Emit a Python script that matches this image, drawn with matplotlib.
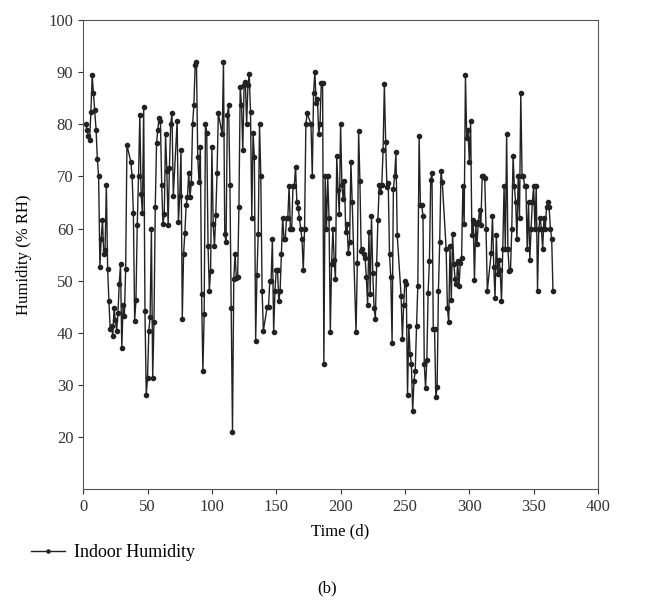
import matplotlib.pyplot as plt
import numpy as np

# Indoor humidity readings (% RH) in eleven runs of consecutive days
seg_a = [80.0, 79.0, 77.7, 77.0, 82.4, 89.4, 86.0, 82.7, 79.0, 73.3, 70.0, 52.7, 58.0, 61.7, 55.1, 55.8,
         68.4, 52.3, 46.0, 40.7, 41.3, 39.3, 44.7, 42.4, 40.4, 43.7, 49.3, 53.1, 37.0, 45.4, 43.3, 52.3, 76.0]
seg_b = [72.8, 70.1, 63.0, 42.3, 46.3, 60.7, 70.0, 81.7, 66.7, 63.0, 83.3, 44.1, 28.1, 31.4, 40.4, 43.0,
         59.9, 31.4, 42.0, 64.1, 76.4, 79.0, 81.3, 80.6, 68.3, 60.9, 62.7, 78.1, 71.0, 60.7, 71.7, 80.1, 82.1, 66.3]
seg_c = [80.6, 61.2, 66.2, 75.0, 42.7, 55.1, 59.1, 64.6, 66.0, 70.6, 66.0, 68.7, 80.0, 83.7, 91.3, 92.0,
         73.7, 68.9, 75.6, 47.4, 32.7, 43.6, 80.0, 78.3, 56.7, 48.1, 51.9, 75.6, 60.8, 56.7, 62.5, 70.6, 82.1]
seg_d = [78.1, 92.0, 58.9, 57.4, 81.7, 83.7, 68.4, 44.7, 21.0, 50.3, 55.1, 50.5, 50.6, 64.1, 87.1, 83.7,
         75.0, 87.5, 88.1, 80.0, 87.5, 89.6, 82.4, 62.1, 78.3, 73.7, 38.5, 51.0, 58.9, 80.0, 70.0, 48.1, 40.4]
seg_e = [45.0, 45.0, 50.0, 50.0, 58.0, 40.1, 48.1, 52.0, 52.0, 46.0, 48.1, 55.1, 62.1, 58.0, 58.0, 62.1,
         62.1, 68.1, 59.9, 59.9, 68.1, 68.1, 71.9, 65.1, 64.0, 62.1, 59.9, 58.0, 52.0, 59.9, 80.0, 82.1]
seg_f = [80.0, 70.0, 86.0, 90.1, 84.1, 84.9, 78.1, 80.0, 88.0, 88.0, 34.0, 70.0, 59.9, 70.0, 62.1, 40.1,
         53.1, 59.9, 54.0, 50.3, 74.0, 67.3, 62.7, 80.0, 68.3, 65.7, 69.1, 59.3, 60.9, 55.3, 57.4, 72.8, 65.1]
seg_g = [40.1, 53.4, 78.7, 69.1, 55.6, 56.0, 55.1, 54.4, 50.6, 45.4, 59.3, 47.4, 62.4, 51.4, 44.7, 42.7,
         53.1, 61.7, 68.3, 67.0, 68.3, 75.0, 87.7, 76.6, 67.9, 68.7, 55.1, 50.6, 38.1, 67.6, 70.0, 74.7, 58.7]
seg_h = [47.1, 38.8, 45.4, 50.0, 49.3, 28.1, 41.3, 36.0, 34.0, 25.0, 30.8, 32.7, 41.3, 49.0, 77.7, 64.6,
         64.6, 62.4, 34.0, 29.4, 34.7, 47.7, 53.7, 69.3, 70.6, 40.7, 40.7, 27.7, 29.5, 48.1, 57.4, 71.0, 68.9]
seg_i = [56.1, 44.7, 42.0, 56.7, 46.2, 58.9, 53.1, 50.3, 49.3, 53.7, 49.0, 53.3, 54.4, 68.1, 60.8, 89.4,
         77.4, 79.0, 72.8, 80.6, 58.7, 61.7, 50.1, 60.8, 57.0, 61.2, 63.6, 60.7, 70.0, 70.0, 69.7, 59.9, 48.1]
seg_j = [55.3, 62.4, 52.7, 46.7, 58.8, 51.3, 54.0, 52.0, 46.0, 56.0, 68.1, 56.0, 78.1, 56.0, 51.9, 52.0,
         59.9, 74.0, 68.1, 65.1, 58.0, 70.0, 62.1, 86.0, 70.0, 70.0, 68.1, 68.1, 56.0, 65.1, 54.0, 59.9, 65.1, 68.1]
seg_k = [59.9, 68.1, 48.1, 60.0, 62.1, 60.0, 56.0, 62.1, 60.0, 64.1, 65.1, 64.1, 60.0, 58.0, 48.1]

segments = [seg_a, seg_b, seg_c, seg_d, seg_e, seg_f, seg_g, seg_h, seg_i, seg_j, seg_k]
# first day of each run
seg_start_day = [2, 37, 73, 108, 143, 177, 212, 247, 282, 317, 351]

plt.rcParams['font.family'] = ['Liberation Serif', 'DejaVu Serif']
plt.rcParams['font.size'] = 12


def main():
    days = np.concatenate([start + np.arange(len(seg)) for start, seg in zip(seg_start_day, segments)])
    humidity = np.concatenate([np.array(seg) for seg in segments])

    fig = plt.figure(figsize=(6.55, 6.09), dpi=100)
    ax = fig.add_axes([0.127, 0.197, 0.786, 0.770])
    line, = ax.plot(days, humidity, color='#222222', linewidth=1.0, marker='o', markersize=3.0,
                    label='Indoor Humidity')

    ax.set_xlim(0, 400)
    ax.set_ylim(10, 100)
    ax.set_xticks(np.arange(0, 401, 50))
    ax.set_yticks(np.arange(20, 101, 10))
    ax.tick_params(direction='out', length=3.5, width=0.8, labelsize=12, colors='#333333')
    for s in ax.spines.values():
        s.set_linewidth(0.8)
        s.set_color('#555555')
    ax.set_xlabel('Time (d)', fontsize=12, labelpad=6)
    ax.set_ylabel('Humidity (% RH)', fontsize=12, labelpad=12)

    fig.legend(handles=[line], loc='center left', bbox_to_anchor=(0.022, 0.092), frameon=False,
               fontsize=13, handlelength=1.9, handletextpad=0.5, markerscale=0.75)
    fig.text(0.5, 0.034, '(b)', ha='center', va='center', fontsize=12)

    fig.savefig('out.png', dpi=100)


if __name__ == "__main__":
    main()
